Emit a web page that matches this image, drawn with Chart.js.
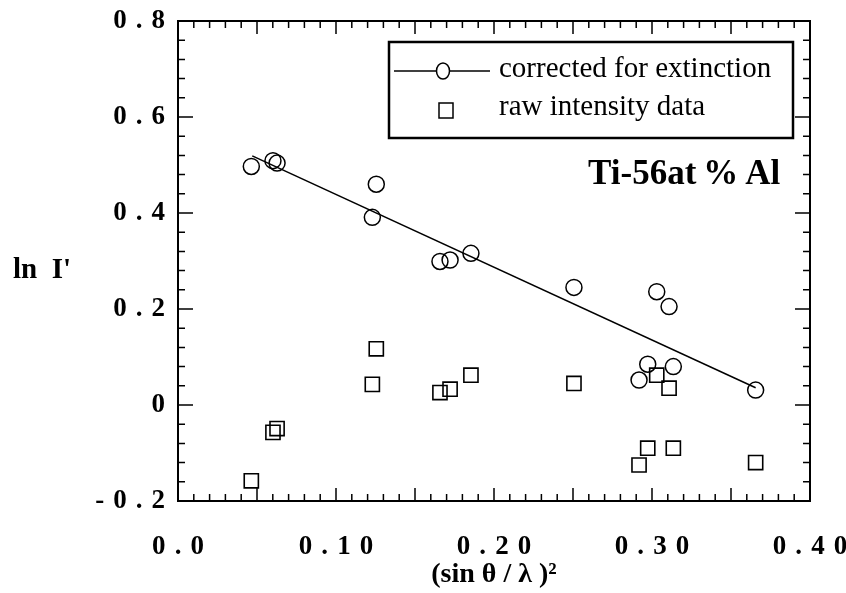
<!DOCTYPE html>
<html>
<head>
<meta charset="utf-8">
<script src="https://cdn.jsdelivr.net/npm/chart.js@4/dist/chart.umd.min.js"></script>
<style>
  body { margin: 0; background: #fff; }
</style>
</head>
<body>
<canvas id="lnPlot" width="846" height="593"></canvas>
<script>
// (sin theta / lambda)^2 of each reflection
const sinTheta2 = [0.0464, 0.0601, 0.0627, 0.1255, 0.1230, 0.1658, 0.1722, 0.1854, 0.2506, 0.3030, 0.3108, 0.2973, 0.2918, 0.3135, 0.3656];
// ln I' corrected for extinction (circles)
const corrected = [0.497, 0.509, 0.504, 0.460, 0.391, 0.299, 0.302, 0.316, 0.245, 0.236, 0.205, 0.085, 0.052, 0.080, 0.031];
// ln I' from raw intensities (squares)
const rawData = [-0.158, -0.057, -0.049, 0.117, 0.043, 0.026, 0.033, 0.062, 0.045, 0.062, 0.035, -0.090, -0.125, -0.090, -0.120];
// fitted straight line through the corrected points
const fitX = [0.047, 0.3656];
const fitY = [0.519, 0.036];

const xTickLabels = ['0.0', '0.10', '0.20', '0.30', '0.40'];
const yTickLabels = ['-0.2', '0', '0.2', '0.4', '0.6', '0.8'];

const serif = 'Liberation Serif';
const spaced = s => s.split('').join('\u2004');

const toPoints = (xs, ys) => xs.map((x, i) => ({ x: x, y: ys[i] }));

// frame with inward ticks on all four sides
const frameTicks = {
    id: 'frameTicks',
    beforeDatasetsDraw(chart) {
        const { ctx, chartArea: a, scales: { x, y } } = chart;
        ctx.save();
        ctx.strokeStyle = '#000';
        ctx.lineWidth = 1.5;
        ctx.beginPath();
        for (let i = 1; i < 40; i++) {
            const px = x.getPixelForValue(i / 100);
            const len = i % 5 === 0 ? 13 : 7;
            ctx.moveTo(px, a.bottom); ctx.lineTo(px, a.bottom - len);
            ctx.moveTo(px, a.top); ctx.lineTo(px, a.top + len);
        }
        for (let j = -4; j < 20; j++) {
            if (j === -5) continue;
            const py = y.getPixelForValue(j * 0.04);
            const len = j % 5 === 0 ? 15 : 7;
            ctx.moveTo(a.left, py); ctx.lineTo(a.left + len, py);
            ctx.moveTo(a.right, py); ctx.lineTo(a.right - len, py);
        }
        ctx.stroke();
        ctx.lineWidth = 2;
        ctx.strokeRect(a.left, a.top, a.right - a.left, a.bottom - a.top);
        ctx.restore();
    },
    afterDraw(chart) {
        const { ctx, chartArea: a, scales: { x, y } } = chart;
        ctx.save();
        ctx.fillStyle = '#000';
        ctx.strokeStyle = '#000';

        // y axis title, horizontal
        ctx.font = 'bold 29px "' + serif + '"';
        ctx.textAlign = 'left';
        ctx.textBaseline = 'middle';
        ctx.fillText("ln\u2002I'", 13, y.getPixelForValue(0.28));

        // alloy label
        ctx.font = 'bold 35px "' + serif + '"';
        ctx.textAlign = 'right';
        ctx.textBaseline = 'alphabetic';
        ctx.fillText('Ti-56at\u2009%\u2009Al', x.getPixelForValue(0.3812), y.getPixelForValue(0.46));

        // legend box
        const bx = a.left + 211, by = a.top + 21, bw = 404, bh = 96;
        ctx.fillStyle = '#fff';
        ctx.fillRect(bx, by, bw, bh);
        ctx.lineWidth = 2.5;
        ctx.strokeRect(bx, by, bw, bh);

        ctx.lineWidth = 1.5;
        ctx.beginPath();
        ctx.moveTo(bx + 5, by + 29);
        ctx.lineTo(bx + 101, by + 29);
        ctx.stroke();
        ctx.fillStyle = '#fff';
        ctx.beginPath();
        ctx.ellipse(bx + 54, by + 29, 6.5, 8, 0, 0, Math.PI * 2);
        ctx.fill();
        ctx.stroke();
        ctx.strokeRect(bx + 50, by + 61, 14, 15);

        ctx.fillStyle = '#000';
        ctx.font = '29px "' + serif + '"';
        ctx.textAlign = 'left';
        ctx.textBaseline = 'alphabetic';
        ctx.fillText('corrected for extinction', bx + 110, by + 35);
        ctx.fillText('raw intensity data', bx + 110, by + 73);
        ctx.restore();
    }
};

const ctx = document.getElementById('lnPlot').getContext('2d');

const lnPlot = new Chart(ctx, {
    type: 'scatter',
    data: {
        datasets: [{
            type: 'line',
            label: 'fit',
            data: toPoints(fitX, fitY),
            borderColor: '#000',
            borderWidth: 1.5,
            pointRadius: 0,
            fill: false
        },
        {
            label: 'corrected for extinction',
            data: toPoints(sinTheta2, corrected),
            pointStyle: 'circle',
            pointRadius: 8,
            borderColor: '#000',
            borderWidth: 1.5,
            backgroundColor: 'rgba(0,0,0,0)'
        },
        {
            label: 'raw intensity data',
            data: toPoints(sinTheta2, rawData),
            pointStyle: 'rect',
            pointRadius: 10,
            borderColor: '#000',
            borderWidth: 1.6,
            backgroundColor: 'rgba(0,0,0,0)'
        }]
    },
    options: {
        responsive: false,
        animation: false,
        layout: { padding: { left: 0, right: 36, top: 21, bottom: 0 } },
        plugins: {
            legend: { display: false },
            tooltip: { enabled: false }
        },
        scales: {
            x: {
                type: 'linear',
                min: 0,
                max: 0.4,
                grid: { display: false, drawTicks: false },
                border: { display: false },
                ticks: {
                    stepSize: 0.1,
                    padding: 30,
                    color: '#000',
                    font: { family: serif, size: 27, weight: 'bold' },
                    callback: (v, i) => spaced(xTickLabels[i] || '')
                },
                title: {
                    display: true,
                    text: '(sin \u03B8 / \u03BB )\u00B2',
                    color: '#000',
                    font: { family: serif, size: 28, weight: 'bold' },
                    padding: { top: 0, bottom: 1 }
                },
                afterFit: s => { s.height = 92; s.paddingLeft = 0; s.paddingRight = 0; }
            },
            y: {
                type: 'linear',
                min: -0.2,
                max: 0.8,
                grid: { display: false, drawTicks: false },
                border: { display: false },
                ticks: {
                    stepSize: 0.2,
                    padding: 13,
                    color: '#000',
                    font: { family: serif, size: 27, weight: 'bold' },
                    callback: (v, i) => spaced(yTickLabels[i] || '')
                },
                afterFit: s => { s.width = 178; s.paddingTop = 0; s.paddingBottom = 0; }
            }
        }
    },
    plugins: [frameTicks]
});
</script>
</body>
</html>
